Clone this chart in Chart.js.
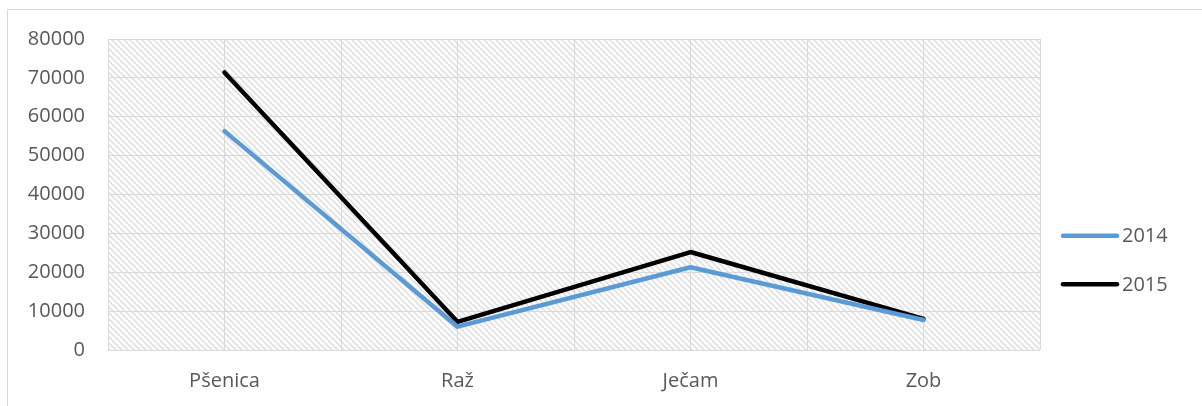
<!DOCTYPE html>
<html lang="sl">
<head>
    <meta charset="UTF-8">
    <title>Pridelek žit 2014 - 2015</title>
    <script src="https://cdn.jsdelivr.net/npm/chart.js"></script>
    <style>
        body {
            margin: 0;
            background: #fff;
        }

        #wrap {
            position: relative;
            width: 1202px;
            height: 406px;
            overflow: hidden;
        }

        #frame {
            position: absolute;
            left: 7px;
            top: 9px;
            width: 1400px;
            height: 600px;
            border-left: 1px solid #d9d9d9;
            border-top: 1px solid #d9d9d9;
        }

        #chart {
            position: absolute;
            left: 0;
            top: 0;
        }
    </style>
</head>
<body>

    <div id="wrap">
        <div id="frame"></div>
        <canvas id="chart" width="1202" height="406"></canvas>
    </div>

    <script>
        const categories = ['Pšenica', 'Raž', 'Ječam', 'Zob'];
        const years = ['2014', '2015'];
        const values2014 = [56300, 6000, 21300, 7700];
        const values2015 = [71400, 7250, 25200, 8000];
        const yTicks = [0, 10000, 20000, 30000, 40000, 50000, 60000, 70000, 80000];

        const textColor = '#595959';
        const gridColor = '#d9d9d9';
        const fontFamily = '"Open Sans", sans-serif';

        // diagonal hatch for the plot area
        function makeHatch() {
            const size = 6;
            const c = document.createElement('canvas');
            c.width = size;
            c.height = size;
            const g = c.getContext('2d');
            g.fillStyle = '#ffffff';
            g.fillRect(0, 0, size, size);
            g.strokeStyle = '#e2e2e2';
            g.lineWidth = 1.8;
            g.beginPath();
            g.moveTo(-1, -1); g.lineTo(size + 1, size + 1);
            g.moveTo(-2, size - 2); g.lineTo(2, size + 2);
            g.moveTo(size - 2, -2); g.lineTo(size + 2, 2);
            g.stroke();
            return c;
        }

        const hatchPlugin = {
            id: 'hatch',
            beforeDraw(chart) {
                const {ctx, chartArea} = chart;
                ctx.save();
                ctx.fillStyle = ctx.createPattern(makeHatch(), 'repeat');
                ctx.fillRect(chartArea.left, chartArea.top, chartArea.right - chartArea.left, chartArea.bottom - chartArea.top);
                ctx.restore();
            }
        };

        // legend on the right, drawn from the datasets
        const sideLegend = {
            id: 'sideLegend',
            afterDraw(chart) {
                const {ctx, chartArea} = chart;
                const x0 = chartArea.right + 23;
                const yMid = 260;
                const gap = 48.5;
                const n = chart.data.datasets.length;
                ctx.save();
                ctx.font = '20px ' + fontFamily;
                ctx.textBaseline = 'middle';
                ctx.fillStyle = textColor;
                chart.data.datasets.forEach((ds, i) => {
                    const y = yMid + (i - (n - 1) / 2) * gap;
                    ctx.strokeStyle = ds.borderColor;
                    ctx.lineWidth = ds.borderWidth;
                    ctx.lineCap = 'round';
                    ctx.beginPath();
                    ctx.moveTo(x0, y);
                    ctx.lineTo(x0 + 54, y);
                    ctx.stroke();
                    ctx.fillText(ds.label, x0 + 59, y + 1);
                });
                ctx.restore();
            }
        };

        const ctx = document.getElementById('chart').getContext('2d');
        const chart = new Chart(ctx, {
            type: 'line',
            data: {
                labels: categories,
                datasets: [
                    {
                        label: years[0],
                        data: values2014,
                        borderColor: '#5b9bd5',
                        borderWidth: 4.5,
                        pointRadius: 0,
                        tension: 0,
                        borderCapStyle: 'round',
                        borderJoinStyle: 'round'
                    },
                    {
                        label: years[1],
                        data: values2015,
                        borderColor: '#000000',
                        borderWidth: 4.5,
                        pointRadius: 0,
                        tension: 0,
                        borderCapStyle: 'round',
                        borderJoinStyle: 'round'
                    }
                ]
            },
            options: {
                responsive: false,
                animation: false,
                layout: {
                    padding: {left: 8, right: 162, top: 39, bottom: 13}
                },
                scales: {
                    x: {
                        type: 'category',
                        offset: true,
                        afterFit(scale) {
                            scale.height = 43;
                        },
                        grid: {
                            offset: true,
                            color: gridColor,
                            drawTicks: false
                        },
                        border: {display: false},
                        ticks: {
                            color: textColor,
                            padding: 19,
                            maxRotation: 0,
                            font: {family: fontFamily, size: 20}
                        }
                    },
                    // second category axis only for the gridlines at the category centres
                    xc: {
                        type: 'category',
                        position: 'bottom',
                        offset: true,
                        afterFit(scale) {
                            scale.height = 0;
                        },
                        grid: {
                            offset: false,
                            color: gridColor,
                            drawTicks: false
                        },
                        border: {display: false},
                        ticks: {display: false}
                    },
                    y: {
                        min: 0,
                        max: 80000,
                        afterFit(scale) {
                            scale.width = 100;
                        },
                        afterBuildTicks(scale) {
                            scale.ticks = yTicks.map(v => ({value: v}));
                        },
                        grid: {
                            color: gridColor,
                            drawTicks: false
                        },
                        border: {display: false},
                        ticks: {
                            color: textColor,
                            padding: 23,
                            font: {family: fontFamily, size: 20},
                            callback: v => String(v)
                        }
                    }
                },
                plugins: {
                    legend: {display: false},
                    tooltip: {enabled: false}
                }
            },
            plugins: [hatchPlugin, sideLegend]
        });
    </script>

</body>
</html>
